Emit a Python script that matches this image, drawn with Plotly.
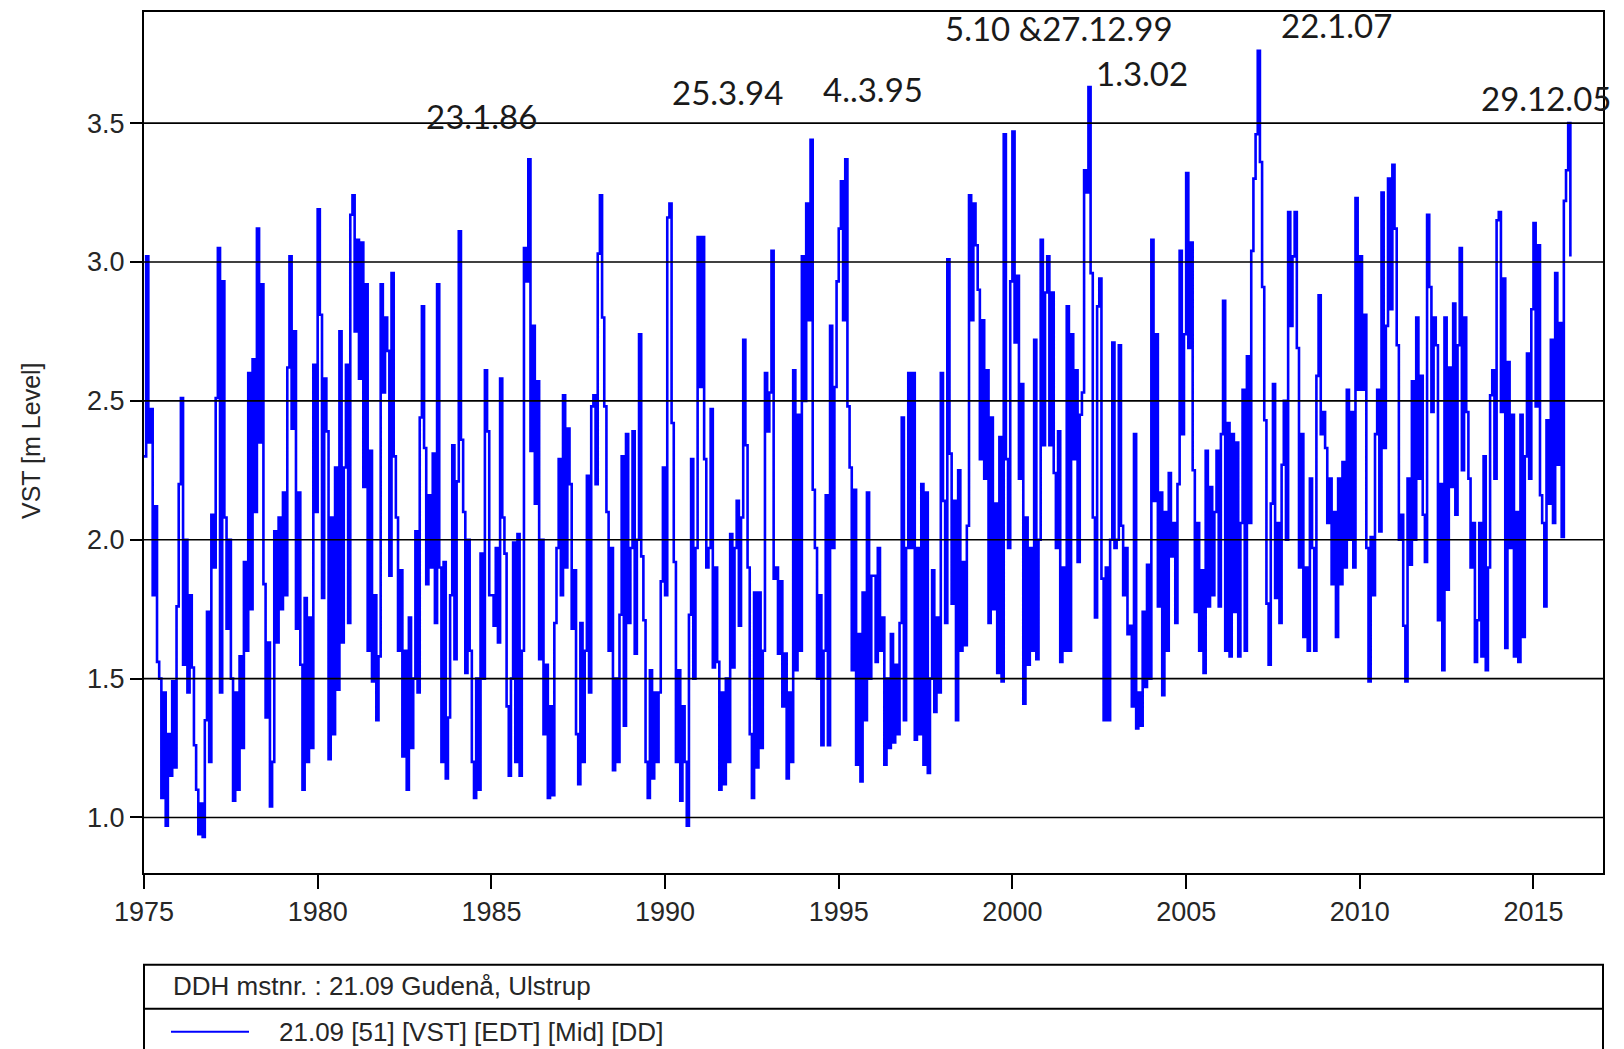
import pandas as pd
import plotly.graph_objects as go

# ---------------- data ----------------
SAMPLES_PER_YEAR = 16  # values per year, evenly spaced through each year

level_1975_1984 = [
    2.30, 3.02, 2.35, 2.47, 1.80, 2.12, 1.56, 1.50, 1.07, 1.45, 0.97, 1.30, 1.15, 1.49, 1.18, 1.76,  # 1975
    2.20, 2.51, 1.55, 2.00, 1.45, 1.80, 1.54, 1.26, 1.10, 0.94, 1.05, 0.93, 1.35, 1.74, 1.20, 2.09,  # 1976
    1.90, 2.51, 3.05, 1.45, 2.93, 2.08, 1.68, 2.00, 1.50, 1.06, 1.45, 1.10, 1.58, 1.25, 1.92, 1.60,  # 1977
    2.60, 1.75, 2.65, 2.10, 3.12, 2.35, 2.92, 1.84, 1.36, 1.63, 1.04, 1.20, 2.03, 1.63, 2.08, 1.75,  # 1978
    2.17, 1.80, 2.62, 3.02, 2.40, 2.75, 1.68, 2.17, 1.55, 1.10, 1.79, 1.20, 1.72, 1.25, 2.63, 2.10,  # 1979
    3.19, 2.81, 1.79, 2.58, 2.39, 1.21, 2.08, 1.30, 2.26, 1.46, 2.75, 1.63, 2.26, 2.63, 1.70, 3.17,  # 1980
    3.24, 2.75, 3.08, 2.58, 3.07, 2.19, 2.92, 1.60, 2.32, 1.49, 1.80, 1.35, 1.58, 2.92, 2.53, 2.80,  # 1981
    2.68, 1.87, 2.96, 2.30, 2.08, 1.60, 1.89, 1.22, 1.60, 1.10, 1.72, 1.25, 1.50, 2.03, 1.45, 2.44,  # 1982
    2.84, 2.33, 1.84, 2.16, 1.90, 2.31, 1.70, 2.92, 1.90, 1.20, 1.92, 1.14, 1.36, 1.80, 2.34, 1.57,  # 1983
    2.21, 3.11, 2.36, 2.10, 1.52, 2.00, 1.60, 1.20, 1.07, 1.50, 1.10, 1.95, 1.50, 2.61, 2.39, 1.80,  # 1984
]
level_1985_1994 = [
    1.80, 1.69, 1.97, 1.63, 2.58, 2.08, 1.95, 1.40, 1.15, 1.50, 1.99, 1.20, 2.02, 1.15, 1.60, 3.05,  # 1985
    2.93, 3.37, 2.32, 2.77, 2.13, 2.57, 1.57, 2.00, 1.30, 1.55, 1.07, 1.40, 1.08, 1.70, 1.97, 2.29,  # 1986
    1.80, 2.52, 1.90, 2.40, 2.20, 1.68, 1.89, 1.30, 1.12, 1.70, 1.20, 1.60, 2.23, 1.45, 2.48, 2.52,  # 1987
    2.20, 3.03, 3.24, 2.80, 2.48, 2.10, 1.60, 1.97, 1.17, 1.50, 1.20, 1.73, 2.30, 1.33, 2.38, 1.70,  # 1988
    1.97, 2.39, 1.59, 2.00, 2.74, 1.94, 1.71, 1.20, 1.07, 1.53, 1.14, 1.45, 1.20, 1.45, 1.85, 2.26,  # 1989
    1.80, 3.16, 3.21, 2.42, 1.92, 1.20, 1.53, 1.06, 1.40, 1.20, 0.97, 1.73, 2.29, 1.50, 1.97, 3.09,  # 1990
    2.55, 3.09, 2.29, 1.90, 1.97, 2.47, 1.54, 1.90, 1.56, 1.10, 1.45, 1.12, 1.50, 1.20, 2.02, 1.54,  # 1991
    1.97, 2.14, 1.69, 2.08, 2.72, 2.34, 1.90, 1.30, 1.07, 1.81, 1.18, 1.81, 1.25, 1.60, 2.60, 2.39,  # 1992
    2.53, 3.04, 1.86, 1.90, 1.59, 1.85, 1.40, 1.59, 1.14, 1.45, 1.20, 2.61, 1.53, 2.45, 1.60, 3.02,  # 1993
    2.50, 3.21, 2.79, 3.44, 2.18, 1.97, 1.50, 1.80, 1.26, 1.60, 2.16, 1.26, 2.77, 1.97, 2.55, 2.93,  # 1994
]
level_1995_2004 = [
    3.12, 3.29, 2.79, 3.37, 2.48, 2.26, 1.53, 2.18, 1.19, 1.66, 1.13, 1.81, 1.35, 2.17, 1.50, 1.87,  # 1995
    1.87, 1.56, 1.97, 1.60, 1.72, 1.19, 1.50, 1.25, 1.66, 1.27, 1.55, 1.30, 1.70, 2.44, 1.35, 1.97,  # 1996
    2.60, 1.97, 2.60, 1.28, 1.97, 1.30, 2.20, 1.19, 2.17, 1.16, 1.50, 1.89, 1.38, 1.72, 1.45, 2.60,  # 1997
    2.14, 1.70, 3.01, 2.31, 1.77, 2.14, 1.35, 2.25, 1.60, 1.92, 1.62, 2.05, 3.24, 2.79, 3.21, 3.06,  # 1998
    2.90, 2.29, 2.79, 2.22, 2.61, 1.70, 2.44, 1.75, 2.13, 1.52, 2.37, 1.49, 3.46, 2.29, 1.97, 2.93,  # 1999
    3.47, 2.71, 2.95, 2.22, 2.56, 1.41, 2.08, 1.55, 1.97, 1.60, 2.72, 1.57, 2.00, 3.08, 2.34, 2.89,  # 2000
    3.02, 2.34, 2.89, 2.24, 1.97, 2.39, 1.56, 1.90, 1.60, 2.84, 1.60, 2.74, 2.29, 2.61, 1.92, 2.45,  # 2001
    2.53, 3.33, 3.25, 3.63, 2.96, 2.08, 1.72, 2.84, 2.94, 1.86, 1.35, 1.90, 1.35, 2.00, 2.71, 1.97,  # 2002
    2.00, 2.70, 2.05, 1.80, 1.97, 1.66, 1.69, 1.40, 2.38, 1.32, 1.45, 1.33, 1.74, 1.47, 1.91, 1.50,  # 2003
    3.08, 2.14, 2.74, 1.76, 2.17, 1.44, 2.10, 1.60, 2.24, 1.94, 2.06, 1.70, 2.20, 3.04, 2.38, 2.74,  # 2004
]
level_2005_2016 = [
    3.32, 2.69, 3.07, 2.25, 1.74, 2.06, 1.60, 1.89, 1.52, 2.32, 1.76, 2.19, 1.80, 2.10, 2.32, 1.76,  # 2005
    2.38, 2.86, 1.60, 2.42, 1.58, 2.38, 1.74, 2.35, 1.58, 2.06, 2.54, 1.60, 2.66, 2.06, 3.04, 3.30,  # 2006
    3.46, 3.76, 3.36, 2.91, 2.43, 1.77, 1.55, 2.13, 2.56, 1.79, 2.06, 1.70, 2.27, 2.50, 2.00, 3.18,  # 2007
    2.77, 3.02, 3.18, 2.69, 1.90, 2.38, 1.65, 1.90, 1.60, 2.22, 1.97, 1.60, 2.59, 2.88, 2.38, 2.46,  # 2008
    2.33, 2.06, 2.22, 1.84, 2.10, 1.65, 2.22, 1.84, 2.28, 1.90, 2.54, 2.00, 2.46, 1.90, 3.23, 2.54,  # 2009
    3.02, 2.54, 2.81, 1.97, 1.49, 2.01, 1.80, 2.38, 2.54, 2.03, 3.25, 2.33, 2.77, 3.30, 2.83, 3.35,  # 2010
    3.12, 2.70, 2.00, 2.09, 1.69, 1.49, 2.22, 1.91, 2.57, 2.00, 2.80, 2.22, 2.59, 2.09, 1.92, 3.17,  # 2011
    2.91, 2.46, 2.80, 2.70, 1.71, 2.20, 1.53, 2.80, 1.82, 2.62, 2.19, 2.85, 2.09, 2.70, 3.05, 2.25,  # 2012
    2.80, 2.46, 2.22, 1.90, 2.06, 1.56, 1.71, 2.06, 1.58, 2.30, 1.53, 1.90, 2.52, 2.61, 2.22, 3.15,  # 2013
    3.18, 2.46, 2.94, 1.61, 2.64, 1.97, 2.45, 1.58, 2.10, 1.56, 2.45, 1.65, 2.30, 2.67, 2.22, 2.83,  # 2014
    3.14, 2.48, 3.06, 2.16, 2.06, 1.76, 2.43, 2.13, 2.72, 2.06, 2.96, 2.27, 2.78, 2.01, 3.22, 3.33,  # 2015
    3.50, 3.02,                                                                                    # 2016
]
segment_start_years = [1975, 1985, 1995, 2005]

x_tick_years = [1975, 1980, 1985, 1990, 1995, 2000, 2005, 2010, 2015]
y_tick_values = [1.0, 1.5, 2.0, 2.5, 3.0, 3.5]

peak_labels = ["23.1.86", "25.3.94", "4..3.95", "5.10 &27.12.99", "1.3.02", "22.1.07", "29.12.05"]

series_name = "21.09 [51] [VST] [EDT] [Mid] [DD]"
station_title = "DDH mstnr. : 21.09 Gudenå, Ulstrup"
y_title = "VST [m Level]"

# ---------------- build the time axis ----------------
def sample_dates(start_year, n):
    out = []
    for i in range(n):
        yr = start_year + i // SAMPLES_PER_YEAR
        k = i % SAMPLES_PER_YEAR
        t0 = pd.Timestamp(yr, 1, 1)
        t1 = pd.Timestamp(yr + 1, 1, 1)
        out.append(t0 + (t1 - t0) * k / SAMPLES_PER_YEAR)
    return out

segments = [level_1975_1984, level_1985_1994, level_1995_2004, level_2005_2016]
dates, values = [], []
for start, seg in zip(segment_start_years, segments):
    dates += sample_dates(start, len(seg))
    values += seg


def year_to_date(y):
    yr = int(y)
    t0 = pd.Timestamp(yr, 1, 1)
    t1 = pd.Timestamp(yr + 1, 1, 1)
    return t0 + (t1 - t0) * (y - yr)


# ---------------- figure ----------------
W, H = 1624, 1049
ML, MR, MT, MB = 144, 21, 10, 176
PW, PH = W - ML - MR, H - MT - MB

def px_x(p):
    return (p - ML) / PW

def px_y(p):
    return (H - MB - p) / PH

fig = go.Figure()
fig.add_trace(go.Scatter(
    x=dates, y=values, mode="lines",
    line=dict(color="#0000FF", width=2.6, shape="hv"),
    name=series_name, showlegend=False, hoverinfo="skip",
))

axis_font = dict(family="Liberation Sans, Arial, sans-serif", size=27, color="#262626")

fig.update_layout(
    width=W, height=H,
    margin=dict(l=ML, r=MR, t=MT, b=MB, pad=0),
    paper_bgcolor="white", plot_bgcolor="white",
    showlegend=False,
    xaxis=dict(
        type="date",
        range=[pd.Timestamp(1975, 1, 1), pd.Timestamp(2017, 1, 1)],
        tickvals=[pd.Timestamp(y, 1, 1) for y in x_tick_years],
        ticktext=[str(y) for y in x_tick_years],
        ticks="outside", ticklen=14, tickwidth=2, tickcolor="black",
        showline=True, linecolor="black", linewidth=2, mirror=True,
        showgrid=False, zeroline=False, tickfont=axis_font,
    ),
    yaxis=dict(
        range=[0.8, 3.9],
        tickvals=y_tick_values,
        ticktext=[f"{v:.1f}" for v in y_tick_values],
        ticks="outside", ticklen=12, tickwidth=2, tickcolor="black",
        showline=True, linecolor="black", linewidth=2, mirror=True,
        showgrid=False, zeroline=False, tickfont=axis_font,
    ),
)

shapes = []
for v in y_tick_values:
    shapes.append(dict(type="line", xref="paper", x0=0, x1=1, yref="y", y0=v, y1=v,
                       line=dict(color="black", width=1.6), layer="above"))

# legend box below the chart
box_top, box_div, box_bot = px_y(965), px_y(1009), px_y(1070)
shapes.append(dict(type="rect", xref="paper", yref="paper", x0=0, x1=px_x(1603),
                   y0=box_bot, y1=box_top, line=dict(color="black", width=2),
                   fillcolor="rgba(0,0,0,0)"))
shapes.append(dict(type="line", xref="paper", yref="paper", x0=0, x1=px_x(1603),
                   y0=box_div, y1=box_div, line=dict(color="black", width=2)))
shapes.append(dict(type="line", xref="paper", yref="paper", x0=px_x(171), x1=px_x(249),
                   y0=px_y(1032), y1=px_y(1032), line=dict(color="#0000FF", width=2)))
fig.update_layout(shapes=shapes)

annotations = []
label_pos = [(1984.72, 3.527), (1991.81, 3.612), (1995.98, 3.622), (2001.35, 3.842),
             (2003.74, 3.68), (2009.34, 3.852), (2015.36, 3.592)]
for txt, (lx, ly) in zip(peak_labels, label_pos):
    annotations.append(dict(x=year_to_date(lx), y=ly, xref="x", yref="y", text=txt,
                            showarrow=False, xanchor="center", yanchor="middle",
                            font=dict(family="Lato, Open Sans, sans-serif", size=33, color="#1a1a1a")))

legend_font = dict(family="Liberation Sans, Arial, sans-serif", size=26, color="#262626")
annotations.append(dict(x=px_x(31), y=px_y(440), xref="paper", yref="paper", text=y_title,
                        textangle=-90, showarrow=False, xanchor="center", yanchor="middle",
                        font=dict(family="Liberation Sans, Arial, sans-serif", size=25, color="#262626")))
annotations.append(dict(x=px_x(171), y=px_y(986), xref="paper", yref="paper", text=station_title,
                        showarrow=False, xanchor="left", yanchor="middle", font=legend_font))
annotations.append(dict(x=px_x(277), y=px_y(1032), xref="paper", yref="paper", text=series_name,
                        showarrow=False, xanchor="left", yanchor="middle", font=legend_font))
fig.update_layout(annotations=annotations)

fig.write_html("out.html", config={"displayModeBar": False},
               post_script="document.body.style.margin='0';document.body.style.overflow='hidden';")
